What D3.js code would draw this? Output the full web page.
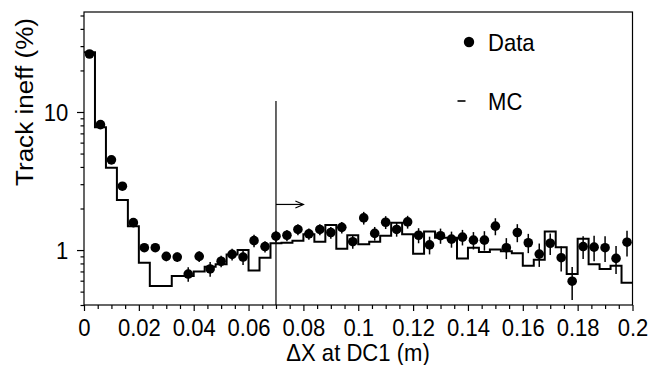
<!DOCTYPE html>
<html><head><meta charset="utf-8">
<script src="https://cdn.jsdelivr.net/npm/d3@7"></script>
<style>body{margin:0;background:#fff;} text{font-family:"Liberation Sans",Arial,sans-serif;fill:#000;}</style>
</head><body><svg id="chart" width="662" height="365"></svg>
<script>
// ---- data ----
const binCenters = [0.002,0.006,0.010,0.014,0.018,0.022,0.026,0.030,0.034,0.038,
  0.042,0.046,0.050,0.054,0.058,0.062,0.066,0.070,0.074,0.078,
  0.082,0.086,0.090,0.094,0.098,0.102,0.106,0.110,0.114,0.118,
  0.122,0.126,0.130,0.134,0.138,0.142,0.146,0.150,0.154,0.158,
  0.162,0.166,0.170,0.174,0.178,0.182,0.186,0.190,0.194,0.198];
const binHalfWidth = 0.002;
const dataValues = [26.3,8.1,4.5,2.9,1.58,1.04,1.04,0.90,0.89,0.67,
  0.90,0.73,0.83,0.93,0.89,1.17,1.06,1.26,1.28,1.41,
  1.31,1.41,1.34,1.46,1.15,1.71,1.32,1.59,1.41,1.60,
  1.28,1.09,1.27,1.20,1.24,1.18,1.18,1.49,1.04,1.34,
  1.13,0.935,1.12,0.88,0.595,1.06,1.05,1.04,0.87,1.14];
const dataErrors = [0.5,0.25,0.15,0.1,0.06,0.07,0.07,0.07,0.07,0.08,
  0.08,0.09,0.08,0.09,0.11,0.12,0.10,0.12,0.12,0.13,
  0.12,0.13,0.13,0.14,0.13,0.18,0.15,0.17,0.16,0.17,
  0.16,0.16,0.16,0.16,0.16,0.17,0.19,0.21,0.18,0.20,
  0.18,0.18,0.20,0.18,0.16,0.20,0.22,0.22,0.20,0.24];
const mcValues = [27.1,7.75,3.95,2.30,1.49,0.81,0.548,0.548,0.648,0.648,
  0.70,0.757,0.788,0.93,1.0,0.71,0.88,1.12,1.13,1.17,
  1.30,1.15,1.52,1.02,1.28,1.10,1.15,1.27,1.58,1.30,
  0.94,1.36,1.23,1.23,0.87,1.04,0.97,1.01,0.98,0.95,
  0.77,0.85,1.36,1.05,0.67,1.21,0.79,0.73,0.77,0.58];

const xTickValues = [0,0.02,0.04,0.06,0.08,0.1,0.12,0.14,0.16,0.18,0.2];
const xTickLabels = ["0","0.02","0.04","0.06","0.08","0.1","0.12","0.14","0.16","0.18","0.2"];
const xMinorTicks = [0.005,0.01,0.015,0.025,0.03,0.035,0.045,0.05,0.055,0.065,0.07,0.075,
  0.085,0.09,0.095,0.105,0.11,0.115,0.125,0.13,0.135,0.145,0.15,0.155,0.165,0.17,0.175,
  0.185,0.19,0.195];
const yTickValues = [1,10];
const yTickLabels = ["1","10"];
const yMinorTicks = [0.4,0.5,0.6,0.7,0.8,0.9,2,3,4,5,6,7,8,9,20,30,40,50];

const xTitle = "\u0394X at DC1 (m)";
const yTitle = "Track ineff (%)";
const legendLabels = ["Data","MC"];
const cutX = 0.07, cutTopValue = 12.0, arrowEndX = 0.08, arrowY = 2.14;

// ---- layout ----
const L = 84, R = 632.5, T = 12, B = 305;
const FONT = 24, SQUEEZE = 0.92;
const svg = d3.select("#chart");
const x = d3.scaleLinear().domain([0,0.2]).range([L,R]);
const y = d3.scaleLog().domain([0.4,53]).range([B,T]);

// frame
svg.append("rect").attr("x",L).attr("y",T).attr("width",R-L).attr("height",B-T)
  .attr("fill","none").attr("stroke","#000").attr("stroke-width",1.2);

// x axis
const xAxis = svg.append("g").attr("transform",`translate(0,${B})`)
  .call(d3.axisBottom(x).tickValues(xTickValues).tickSize(6).tickFormat((d,i)=>xTickLabels[i]));
xAxis.select(".domain").remove();
xAxis.selectAll("text").attr("font-size",FONT).attr("dy",null).attr("y",31)
  .attr("transform",`scale(${SQUEEZE},1)`)
  .style("font-family","'Liberation Sans',Arial,sans-serif");
xAxis.selectAll("line").attr("stroke-width",1.2);
svg.append("g").attr("transform",`translate(0,${B})`)
  .call(d3.axisBottom(x).tickValues(xMinorTicks).tickSize(4).tickFormat(""))
  .call(g=>{g.select(".domain").remove(); g.selectAll("line").attr("stroke-width",1.2);});

// y axis
const yAxis = svg.append("g").attr("transform",`translate(${L},0)`)
  .call(d3.axisLeft(y).tickValues(yTickValues).tickSize(7).tickPadding(10).tickFormat((d,i)=>yTickLabels[i]));
yAxis.select(".domain").remove();
yAxis.selectAll("text").attr("font-size",FONT).attr("dy","0.36em")
  .attr("transform",`scale(${SQUEEZE},1)`)
  .style("font-family","'Liberation Sans',Arial,sans-serif");
yAxis.selectAll("line").attr("stroke-width",1.2);
svg.append("g").attr("transform",`translate(${L},0)`)
  .call(d3.axisLeft(y).tickValues(yMinorTicks).tickSize(3.5).tickFormat(""))
  .call(g=>{g.select(".domain").remove(); g.selectAll("line").attr("stroke-width",1.2);});
svg.selectAll(".tick text").attr("fill","#000");
svg.selectAll(".tick line").attr("stroke","#000");

// titles
svg.append("text").attr("transform",`translate(358,361) scale(${SQUEEZE},1)`)
  .attr("text-anchor","middle").attr("font-size",FONT).text(xTitle);
svg.append("text").attr("transform","translate(33,102) rotate(-90)")
  .attr("text-anchor","middle").attr("font-size",23)
  .attr("textLength",168).attr("lengthAdjust","spacingAndGlyphs").text(yTitle);

// MC histogram
const steps = [];
binCenters.forEach((c,i)=>{ steps.push([c-binHalfWidth, mcValues[i]]); steps.push([c+binHalfWidth, mcValues[i]]); });
svg.append("path").attr("d", d3.line().x(d=>x(d[0])).y(d=>y(d[1]))(steps))
  .attr("fill","none").attr("stroke","#000").attr("stroke-width",2);

// cut line & arrow
svg.append("line").attr("x1",x(cutX)).attr("x2",x(cutX)).attr("y1",y(cutTopValue))
  .attr("y2",B).attr("stroke","#000").attr("stroke-width",1.2);
const ay = y(arrowY), ax0 = x(cutX), ax1 = x(arrowEndX);
svg.append("line").attr("x1",ax0).attr("x2",ax1).attr("y1",ay).attr("y2",ay)
  .attr("stroke","#000").attr("stroke-width",1.2);
svg.append("path").attr("d",`M${ax1-8},${ay-3.5}L${ax1},${ay}L${ax1-8},${ay+3.5}`)
  .attr("fill","none").attr("stroke","#000").attr("stroke-width",1.2);

// data error bars and points
const pts = svg.append("g");
binCenters.forEach((c,i)=>{
  const v = dataValues[i], e = dataErrors[i];
  pts.append("line").attr("x1",x(c)).attr("x2",x(c))
    .attr("y1",y(v+e)).attr("y2",y(Math.max(v-e,0.4)))
    .attr("stroke","#000").attr("stroke-width",1.5);
  pts.append("circle").attr("cx",x(c)).attr("cy",y(v)).attr("r",4.8).attr("fill","#000");
});

// legend
svg.append("circle").attr("cx",469).attr("cy",42).attr("r",5.2).attr("fill","#000");
svg.append("text").attr("transform",`translate(488,51) scale(${SQUEEZE},1)`).attr("font-size",FONT).text(legendLabels[0]);
svg.append("line").attr("x1",457.5).attr("x2",465.5).attr("y1",101).attr("y2",101)
  .attr("stroke","#000").attr("stroke-width",1.6);
svg.append("text").attr("transform",`translate(488,110) scale(${SQUEEZE},1)`).attr("font-size",FONT).text(legendLabels[1]);
</script></body></html>
